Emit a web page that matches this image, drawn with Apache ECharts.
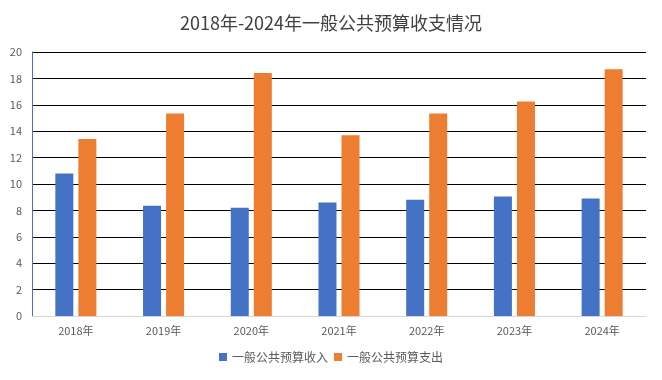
<!DOCTYPE html>
<html><head><meta charset="utf-8">
<script src="https://cdn.jsdelivr.net/npm/echarts@6/dist/echarts.min.js"></script>
<style>html,body{margin:0;padding:0;background:#fff}#c{width:662px;height:380px}</style>
</head><body><div id="c"></div>
<script>
const categories = ['2018年','2019年','2020年','2021年','2022年','2023年','2024年'];
const revenue = [10.8, 8.35, 8.2, 8.6, 8.8, 9.05, 8.9];
const expenditure = [13.4, 15.35, 18.4, 13.7, 15.35, 16.25, 18.7];
const yTicks = {min: 0, max: 20, interval: 2};
const font = '"Noto Sans CJK SC", sans-serif';
const chart = echarts.init(document.getElementById('c'));
chart.setOption({
  animation: false,
  title: {text: '2018年-2024年一般公共预算收支情况', left: 'center', top: 9,
    textStyle: {fontFamily: font, fontSize: 18, fontWeight: 'normal', color: '#404040'}},
  grid: {left: 32, right: 16, top: 52, bottom: 64},
  legend: {bottom: 12, left: 'center', itemWidth: 8, itemHeight: 8, itemGap: 6,
    icon: 'rect', textStyle: {fontFamily: font, fontSize: 12, color: '#595959'},
    data: ['一般公共预算收入','一般公共预算支出']},
  xAxis: {type: 'category', data: categories,
    axisLine: {lineStyle: {color: '#d9d9d9'}}, axisTick: {show: false},
    axisLabel: {fontFamily: font, fontSize: 11, color: '#595959', margin: 9}},
  yAxis: {type: 'value', min: yTicks.min, max: yTicks.max, interval: yTicks.interval,
    axisLine: {show: true, lineStyle: {color: '#4472c4'}}, axisTick: {show: false},
    splitLine: {lineStyle: {color: '#000', width: 1}},
    axisLabel: {fontFamily: font, fontSize: 11, color: '#595959', margin: 10}},
  series: [
    {name: '一般公共预算收入', type: 'bar', data: revenue, barWidth: 18, barGap: '28%',
      itemStyle: {color: '#4472c4'}},
    {name: '一般公共预算支出', type: 'bar', data: expenditure, barWidth: 18, barGap: '28%',
      itemStyle: {color: '#ed7d31'}}
  ]
});
</script></body></html>
